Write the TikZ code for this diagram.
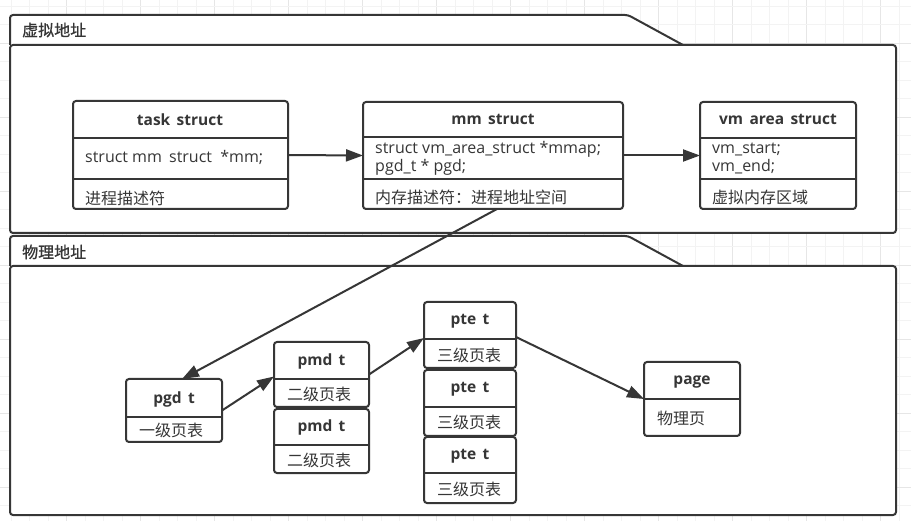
\documentclass[tikz,border=0pt]{standalone}
\usepackage{fontspec}
\setmainfont{Open Sans}
\newfontfamily\cjk{Noto Sans CJK SC}
\newfontfamily\cjktab[FakeBold=0.9]{Noto Sans CJK SC}
\usetikzlibrary{arrows.meta}

\definecolor{ln}{HTML}{363636}
\definecolor{gridmin}{HTML}{F3F3F3}
\definecolor{gridmaj}{HTML}{E6E6E6}

% gap left where an underscore sits in the struct names
\newcommand{\ugap}{\phantom{\_}}

\tikzset{
  frame/.style={draw=ln, line width=2pt, fill=white, line join=round},
  cls/.style={draw=ln, line width=2pt, fill=white, rounded corners=3pt,
    inner sep=0pt, outer sep=0pt, anchor=north west},
  sep/.style={draw=ln, line width=2pt},
  ttl/.style={inner sep=0pt, text=ln, font=\fontsize{15.5}{18}\selectfont\bfseries},
  txt/.style={inner sep=0pt, text=ln, anchor=west, align=left,
    font=\fontsize{16}{18}\selectfont},
  tab/.style={inner sep=0pt, text=ln, anchor=west,
    font=\fontsize{16}{18}\selectfont\cjktab},
  link/.style={draw=ln, line width=2pt,
    -{Triangle[length=17pt,width=12pt]}}
}

\begin{document}
\begin{tikzpicture}[x=1pt,y=-1pt]
\useasboundingbox (0,0) rectangle (911,521);

% background grid
\foreach \i in {0,...,49}{
  \pgfmathtruncatemacro{\m}{mod(\i,4)}
  \ifnum\m=3
    \draw[gridmaj, line width=0.8pt] ({11.2+18.5*\i},0) -- ({11.2+18.5*\i},521);
  \else
    \draw[gridmin, line width=0.8pt] ({11.2+18.5*\i},0) -- ({11.2+18.5*\i},521);
  \fi
}
\foreach \i in {0,...,28}{
  \pgfmathtruncatemacro{\m}{mod(\i,4)}
  \ifnum\m=2
    \draw[gridmaj, line width=0.8pt] (0,{6+18.5*\i}) -- (911,{6+18.5*\i});
  \else
    \draw[gridmin, line width=0.8pt] (0,{6+18.5*\i}) -- (911,{6+18.5*\i});
  \fi
}

% virtual address frame
\draw[frame] (10,45) -- (10,19) [rounded corners=3pt]-- (10,15) -- (628,15) [sharp corners]-- (683,45);
\draw[frame, rounded corners=3pt] (10,45) rectangle (896,233);
\node[tab] (vlabel) at (22,30) {虚拟地址};

% physical address frame
\draw[frame] (10,266) -- (10,240) [rounded corners=3pt]-- (10,236) -- (628,236) [sharp corners]-- (683,266);
\draw[frame, rounded corners=3pt] (10,266) rectangle (896,515);
\node[tab] (plabel) at (22,252) {物理地址};

% task struct
\node[cls, minimum width=215pt, minimum height=108pt] (task) at (73,101) {};
\draw[sep] ([yshift=-37pt]task.north west) -- ([yshift=-37pt]task.north east);
\draw[sep] ([yshift=-78pt]task.north west) -- ([yshift=-78pt]task.north east);
\node[ttl] (taskT) at (180,121) {task\ugap struct};
\node[txt] (taskA) at (85,158) {struct mm\ugap struct\ \ *mm;};
\node[txt] (taskB) at (85,198) {\cjk 进程描述符};

% mm struct
\node[cls, minimum width=260pt, minimum height=107pt] (mm) at (363,102) {};
\draw[sep] ([yshift=-35pt]mm.north west) -- ([yshift=-35pt]mm.north east);
\draw[sep] ([yshift=-77pt]mm.north west) -- ([yshift=-77pt]mm.north east);
\node[ttl] (mmT) at (493,121) {mm\ugap struct};
\node[txt] (mmA) at (375,149) {struct vm\_area\_struct *mmap;};
\node[txt] (mmB) at (375,167) {pgd\_t * pgd;};
\node[txt] (mmC) at (375,197) {\cjk 内存描述符：进程地址空间};

% vm area struct
\node[cls, minimum width=156pt, minimum height=107pt] (vma) at (700,102) {};
\draw[sep] ([yshift=-36pt]vma.north west) -- ([yshift=-36pt]vma.north east);
\draw[sep] ([yshift=-77pt]vma.north west) -- ([yshift=-77pt]vma.north east);
\node[ttl] (vmaT) at (778,121) {vm\ugap area\ugap struct};
\node[txt] (vmaA) at (712,149) {vm\_start;};
\node[txt] (vmaB) at (712,167) {vm\_end;};
\node[txt] (vmaC) at (712,197) {\cjk 虚拟内存区域};

% pgd_t
\node[cls, minimum width=96pt, minimum height=63pt] (pgd) at (126,379) {};
\draw[sep] ([yshift=-38pt]pgd.north west) -- ([yshift=-38pt]pgd.north east);
\node[ttl] (pgdT) at (174,399.5) {pgd\ugap t};
\node[txt] (pgdA) at (139,430) {\cjk 一级页表};

% pmd_t (two)
\node[cls, minimum width=95pt, minimum height=65pt] (pmdA) at (274,342) {};
\draw[sep] ([yshift=-37pt]pmdA.north west) -- ([yshift=-37pt]pmdA.north east);
\node[ttl] (pmdAT) at (321.5,361.5) {pmd\ugap t};
\node[txt] (pmdAX) at (287,394) {\cjk 二级页表};

\node[cls, minimum width=95pt, minimum height=64pt] (pmdB) at (274,409) {};
\draw[sep] ([yshift=-36pt]pmdB.north west) -- ([yshift=-36pt]pmdB.north east);
\node[ttl] (pmdBT) at (321.5,427.5) {pmd\ugap t};
\node[txt] (pmdBX) at (287,460) {\cjk 二级页表};

% pte_t (three)
\node[cls, minimum width=92pt, minimum height=66pt] (pteA) at (424,302) {};
\draw[sep] ([yshift=-37pt]pteA.north west) -- ([yshift=-37pt]pteA.north east);
\node[ttl] (pteAT) at (470,321.5) {pte\ugap t};
\node[txt] (pteAX) at (437,355) {\cjk 三级页表};

\node[cls, minimum width=92pt, minimum height=66pt] (pteB) at (424,370) {};
\draw[sep] ([yshift=-37pt]pteB.north west) -- ([yshift=-37pt]pteB.north east);
\node[ttl] (pteBT) at (470,389.5) {pte\ugap t};
\node[txt] (pteBX) at (437,422) {\cjk 三级页表};

\node[cls, minimum width=92pt, minimum height=66pt] (pteC) at (424,437) {};
\draw[sep] ([yshift=-36pt]pteC.north west) -- ([yshift=-36pt]pteC.north east);
\node[ttl] (pteCT) at (470,456.5) {pte\ugap t};
\node[txt] (pteCX) at (437,489) {\cjk 三级页表};

% page
\node[cls, minimum width=96pt, minimum height=74pt] (page) at (644,362) {};
\draw[sep] ([yshift=-37pt]page.north west) -- ([yshift=-37pt]page.north east);
\node[ttl] (pageT) at (692,382.5) {page};
\node[txt] (pageX) at (657,418) {\cjk 物理页};

% connectors
\draw[link] (task.east) -- (mm.west);
\draw[link] (mm.east) -- (vma.west);
\draw[link] ([xshift=4pt]mm.south) -- ([xshift=8pt]pgd.north);
\draw[link] (pgd.east) -- ([yshift=-2pt]pmdA.west);
\draw[link] (pmdA.east) -- ([yshift=-3pt]pteA.west);
\draw[link] ([yshift=-2pt]pteA.east) -- (page.west);
\end{tikzpicture}
\end{document}
